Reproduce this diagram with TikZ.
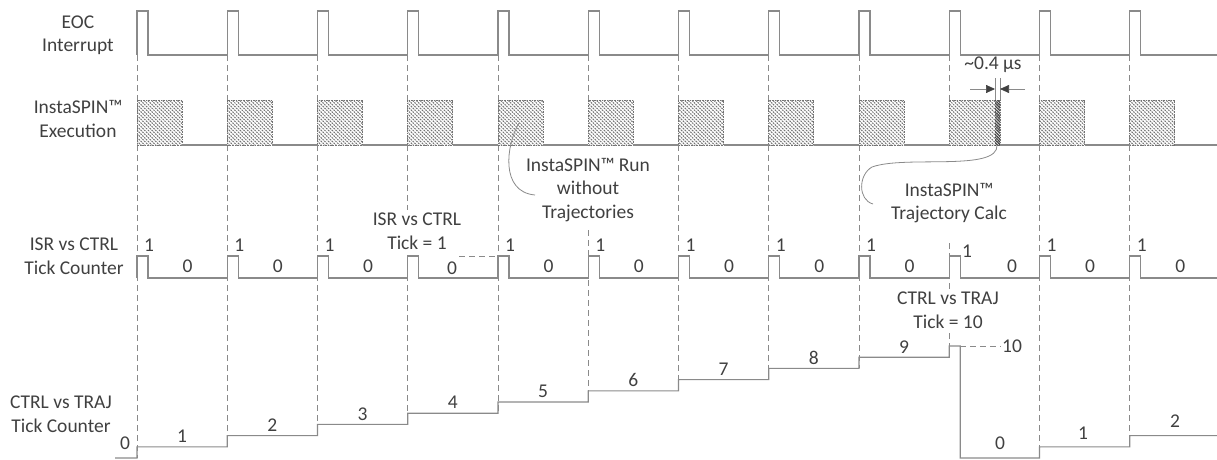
\documentclass[tikz,border=0pt]{standalone}
\usepackage{fontspec}
\setmainfont{Carlito}
\definecolor{wavegray}{RGB}{138, 138, 138}
\definecolor{labelgray}{RGB}{64, 64, 64}
\definecolor{hatchgray}{RGB}{115, 115, 115}
\definecolor{calcgray}{RGB}{70, 70, 70}
\usepackage{tikz}
\usetikzlibrary{arrows.meta, patterns.meta, calc}

\begin{document}
\begin{tikzpicture}[x=1pt, y=-1pt,
  wave/.style={draw=wavegray, line width=1.1pt},
  guide/.style={draw=wavegray, line width=0.9pt, dash pattern=on 6pt off 4pt},
  lbl/.style={text=labelgray, font=\fontsize{19.5}{23.5}\selectfont, inner sep=1pt, align=center},
  callout/.style={lbl, fill=white, inner sep=3pt},
  runbox/.style={draw=hatchgray, line width=0.6pt, dash pattern=on 1.5pt off 1pt,
    pattern={Lines[angle=-45, distance=2.6pt, line width=1.05pt]}, pattern color=hatchgray}]
  \useasboundingbox (0,0) rectangle (1217,460);

  % Signal names
  \node[lbl] (eoc) at (78,35) {EOC\\Interrupt};
  \node[lbl] (exec) at (78,119) {InstaSPIN™\\Execution};
  \node[lbl] (isrcnt) at (74,256) {ISR vs CTRL\\Tick Counter};
  \node[lbl] (trajcnt) at (61,414) {CTRL vs TRAJ\\Tick Counter};

  % Dashed guides at every interrupt
  \foreach \k in {0,...,4,6,7,8}
    \draw[guide] ({137+90.25*\k},55) -- ({137+90.25*\k},{458-11.2*\k});
  \draw[guide] (588.25,55) -- (588.25,100) (588.25,230) -- (588.25,402);
  \draw[guide] (949.25,55) -- (949.25,100) (949.25,243) -- (949.25,357.2);
  \draw[guide] (1039.5,55) -- (1039.5,458);
  \draw[guide] (1129.75,55) -- (1129.75,446.8);

  % EOC interrupt
  \draw[wave] (137,55) \foreach \k in {0,...,11} {
    -- ({137+90.25*\k},55) -- ({137+90.25*\k},11) -- ({148+90.25*\k},11) -- ({148+90.25*\k},55)
  } -- (1217,55);

  % InstaSPIN execution
  \foreach \k in {0,...,8,10,11}
    \draw[runbox] ({137+90.25*\k},100) rectangle ({182+90.25*\k},145);
  \draw[runbox] (949.25,100) rectangle (1000,145);
  \fill[pattern={Lines[angle=-45, distance=2pt, line width=1.1pt]}, pattern color=calcgray] (995,100) rectangle (1000,145);
  \foreach \k in {0,...,8,10}
    \draw[wave] ({182+90.25*\k},145) -- ({137+90.25*(\k+1)},145);
  \draw[wave] (1000,145) -- (1039.5,145);
  \draw[wave] (1174.75,145) -- (1217,145);

  % ~0.4 us
  \draw[wave, line width=0.7pt] (995,78) -- (995,100) (1000,78) -- (1000,100);
  \coordinate (gapL) at (995,89);
  \coordinate (gapR) at (1000,89);
  \coordinate (arrL) at (970,89);
  \coordinate (arrR) at (1025,89);
  \draw[wave, line width=0.7pt, -{Triangle[length=9pt, width=8pt, color=labelgray]}] (arrL) -- (gapL);
  \draw[wave, line width=0.7pt, -{Triangle[length=9pt, width=8pt, color=labelgray]}] (arrR) -- (gapR);
  \node[lbl] (gaplbl) at (993,65) {\textasciitilde0.4 µs};

  % ISR vs CTRL tick counter
  \draw[wave] (137,278) \foreach \k in {0,...,11} {
    -- ({137+90.25*\k},278) -- ({137+90.25*\k},256) -- ({148+90.25*\k},256) -- ({148+90.25*\k},278)
  } -- (1217,278);
  \foreach \k in {0,1,2,4,5,6,7,8,10,11}
    \node[lbl] (one\k) at ({149+90.25*\k},245) {1};
  \node[lbl] (one9) at (967,251) {1};
  \foreach \k in {0,1,2,4,5,6,7,8,10,11}
    \node[lbl] (zero\k) at ({187.5+90.25*\k},266) {0};
  \node[lbl] (zero3) at (452,268) {0};
  \node[lbl] (zero9) at (1012,266) {0};
  \coordinate (isrref) at (498.5,256);
  \draw[guide] (459,256) -- (isrref);

  % CTRL vs TRAJ tick counter
  \draw[wave] (115,458) -- (137,458) \foreach \k in {0,...,8} {
    -- ({137+90.25*\k},{458-11.2*\k}) -- ({137+90.25*\k},{458-11.2*(\k+1)})
  } -- (949.25,357.2) -- (949.25,346) -- (960.25,346) -- (960.25,458)
    -- (1039.5,458) -- (1039.5,446.8) -- (1129.75,446.8) -- (1129.75,435.6) -- (1217,435.6);
  \foreach \n in {1,...,9}
    \node[lbl] (cnt\n) at ({182+90.25*(\n-1)},{447.5-11.2*\n}) {\n};
  \node[lbl] (cntzero) at (125,443) {0};
  \node[lbl] (cntten) at (1012,346) {10};
  \node[lbl] (cntwrap) at (1000,443) {0};
  \node[lbl] (cntone) at (1083,433) {1};
  \node[lbl] (cnttwo) at (1175,421) {2};
  \coordinate (tenstart) at (960.25,346);
  \draw[guide] (tenstart) -- (cntten.west);

  % Callouts
  \node[callout] (isrlbl) at (417,231) {ISR vs CTRL\\Tick = 1};
  \node[callout] (runlbl) at (588,190) {InstaSPIN™ Run\\without\\Trajectories};
  \node[callout] (trajlbl) at (949,203) {InstaSPIN™\\Trajectory Calc};
  \node[callout] (ctrllbl) at (948,310) {CTRL vs TRAJ\\Tick = 10};

  \coordinate (runtip) at (519,123);
  \coordinate (runend) at (535,195);
  \draw[wave, line width=0.8pt] (runtip) .. controls (506,145) and (500,192) .. (runend);
  \coordinate (calctip) at (997,145);
  \coordinate (calcend) at (873,204);
  \draw[wave, line width=0.8pt] (calctip) .. controls (999,172) and (905,155) .. (872,167)
    .. controls (858,175) and (858,200) .. (calcend);
\end{tikzpicture}
\end{document}
